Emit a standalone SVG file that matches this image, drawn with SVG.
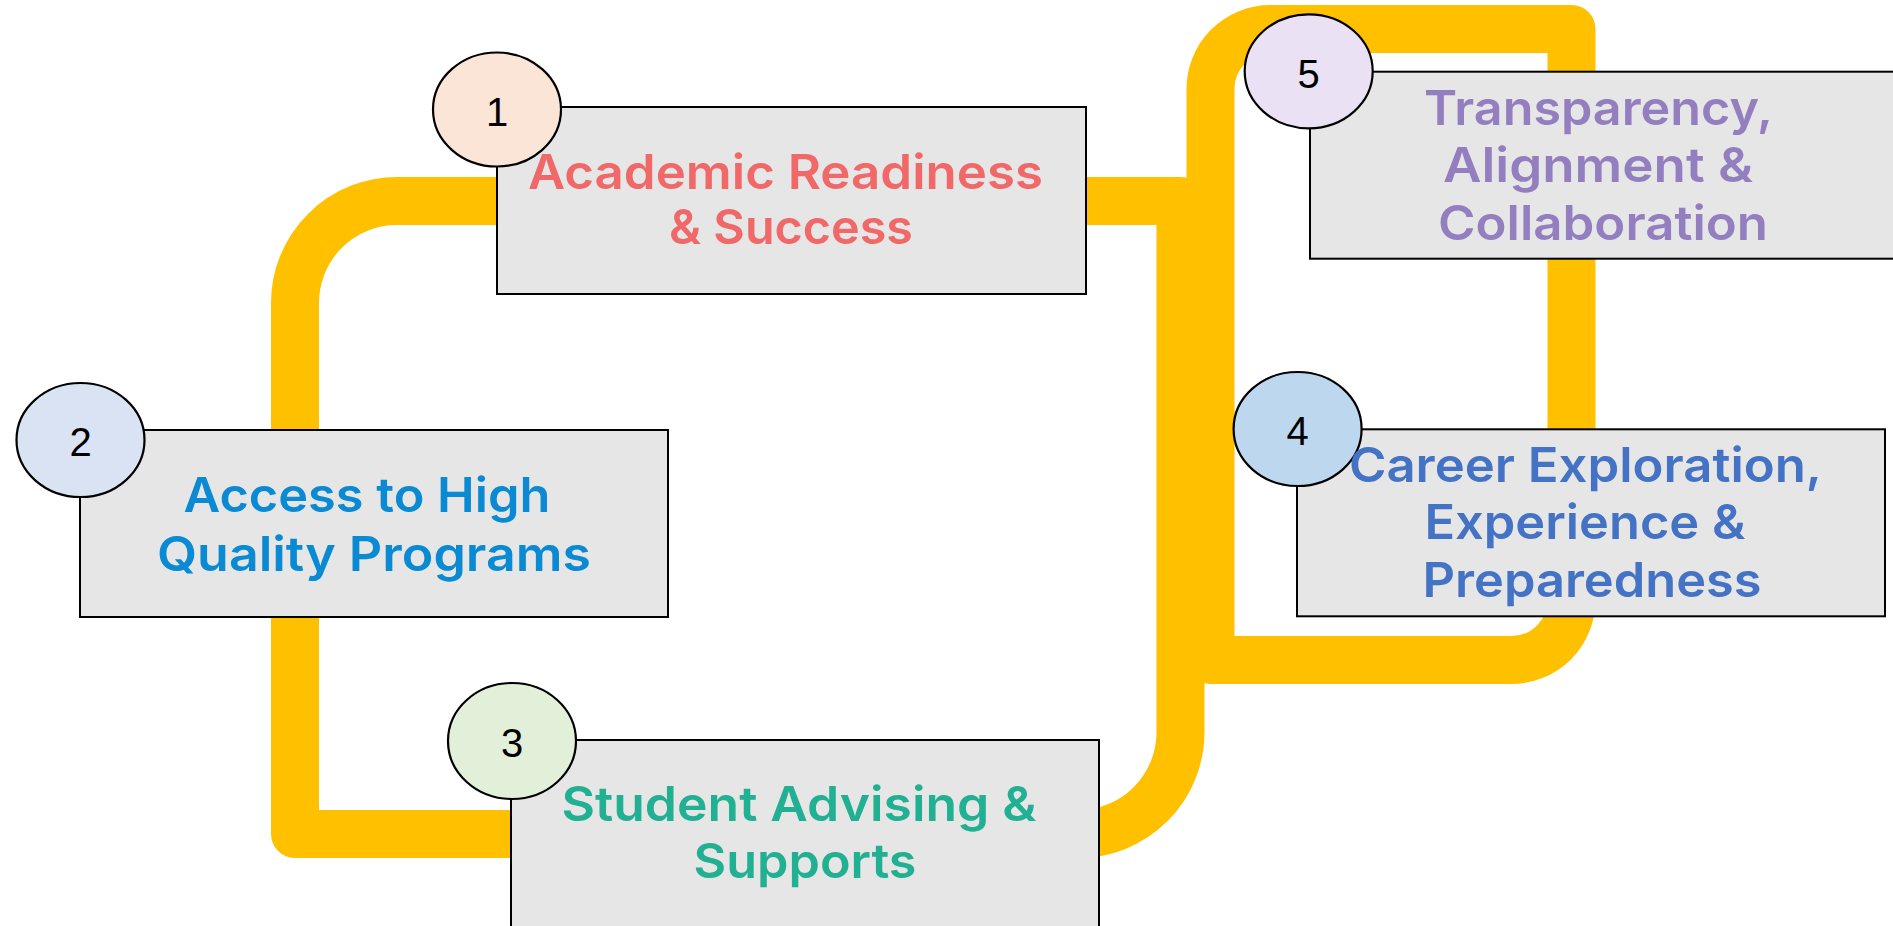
<svg xmlns="http://www.w3.org/2000/svg" width="1893" height="926" viewBox="0 0 1893 926">
  <style>
    .track { fill: none; stroke: #FFC000; stroke-width: 48; stroke-linejoin: round; }
    .box { fill: #E6E6E6; stroke: #000; stroke-width: 2; }
    .badge { stroke: #000; stroke-width: 2.2; }
    .num { font-family: "Liberation Sans", Arial, sans-serif; font-size: 40px; fill: #000; text-anchor: middle; }
    .label { font-family: Inter, "Open Sans", sans-serif; font-weight: 600; font-size: 48px; text-anchor: middle; }
  </style>

  <!-- yellow route lines -->
  <g id="connectors">
    <path class="track" d="M 1180.5 201 L 397 201 A 102 102 0 0 0 295 303 L 295 834 L 1078.5 834 A 102 102 0 0 0 1180.5 732 Z"/>
    <path class="track" d="M 1210.5 660 L 1511.5 660 A 60 60 0 0 0 1571.5 600 L 1571.5 29 L 1270.5 29 A 60 60 0 0 0 1210.5 89 Z"/>
  </g>

  <g id="node1">
    <rect class="box" x="497" y="107" width="589" height="187"/>
    <ellipse class="badge" cx="497" cy="109.5" rx="64" ry="57" fill="#FBE5D6"/>
    <text class="num" x="497" y="126">1</text>
    <text class="label" fill="#F06868">
      <tspan x="791.5" y="189" textLength="515" lengthAdjust="spacingAndGlyphs">Academic Readiness</tspan>
      <tspan x="791" y="244" textLength="244" lengthAdjust="spacingAndGlyphs">&amp; Success</tspan>
    </text>
  </g>

  <g id="node2">
    <rect class="box" x="80" y="430" width="588" height="187"/>
    <ellipse class="badge" cx="80.5" cy="440" rx="64" ry="57" fill="#DAE3F3"/>
    <text class="num" x="80.5" y="456">2</text>
    <text class="label" fill="#0A8AD3">
      <tspan x="373" y="511.7" textLength="367" lengthAdjust="spacingAndGlyphs">Access to High</tspan>
      <tspan x="374" y="571" textLength="434" lengthAdjust="spacingAndGlyphs">Quality Programs</tspan>
    </text>
  </g>

  <g id="node3">
    <rect class="box" x="511" y="740" width="588" height="200"/>
    <ellipse class="badge" cx="512" cy="741" rx="64" ry="58" fill="#E2F0D9"/>
    <text class="num" x="512" y="757">3</text>
    <text class="label" fill="#22B092">
      <tspan x="805" y="820.7" textLength="475" lengthAdjust="spacingAndGlyphs">Student Advising &amp;</tspan>
      <tspan x="805" y="878" textLength="223" lengthAdjust="spacingAndGlyphs">Supports</tspan>
    </text>
  </g>

  <g id="node4">
    <rect class="box" x="1297" y="429.3" width="588" height="187"/>
    <ellipse class="badge" cx="1297.6" cy="429" rx="64" ry="57" fill="#BDD7EE"/>
    <text class="num" x="1297.6" y="445">4</text>
    <text class="label" fill="#4472C4">
      <tspan x="1591" y="481.7" textLength="472" lengthAdjust="spacingAndGlyphs">Career Exploration,</tspan>
      <tspan x="1591" y="539.3" textLength="321" lengthAdjust="spacingAndGlyphs">Experience &amp;</tspan>
      <tspan x="1592" y="596.7" textLength="339" lengthAdjust="spacingAndGlyphs">Preparedness</tspan>
    </text>
  </g>

  <g id="node5">
    <rect class="box" x="1310" y="71.7" width="590" height="187"/>
    <ellipse class="badge" cx="1308.7" cy="71.3" rx="64" ry="57" fill="#EBE1F5"/>
    <text class="num" x="1308.7" y="87.5">5</text>
    <text class="label" fill="#937FC0">
      <tspan x="1604" y="125" textLength="348" lengthAdjust="spacingAndGlyphs">Transparency,</tspan>
      <tspan x="1604" y="181.7" textLength="310" lengthAdjust="spacingAndGlyphs">Alignment &amp;</tspan>
      <tspan x="1603" y="240" textLength="330" lengthAdjust="spacingAndGlyphs">Collaboration</tspan>
    </text>
  </g>
</svg>
